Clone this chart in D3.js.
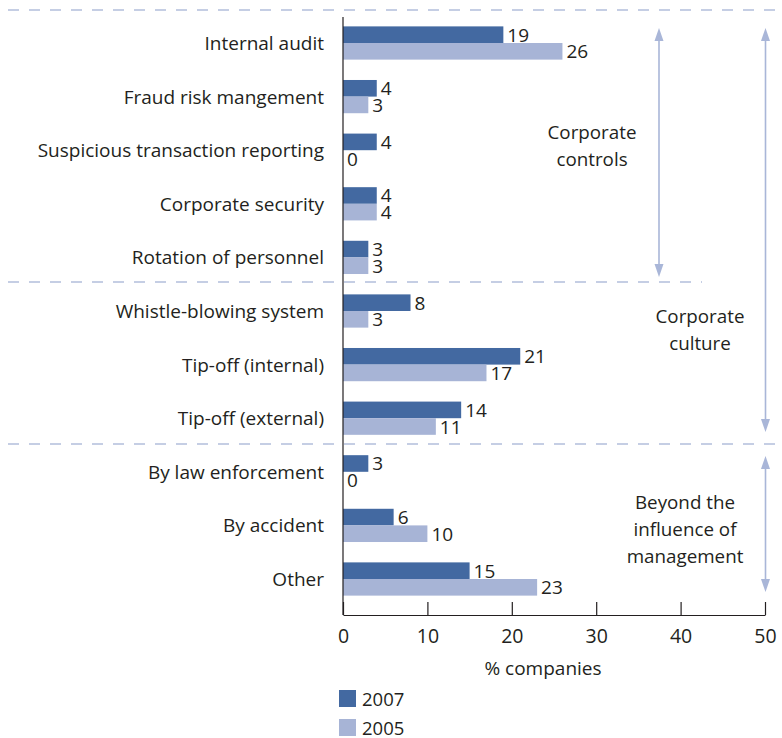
<!DOCTYPE html>
<html>
<head>
<meta charset="utf-8">
<script src="https://cdn.jsdelivr.net/npm/d3@7"></script>
<style>
  html, body { margin: 0; padding: 0; background: #fff; }
  svg text { font-family: "Open Sans", "Noto Sans", sans-serif; fill: #231f20; }
</style>
</head>
<body>
<svg id="chart" width="782" height="738"></svg>
<script>
// Detection methods of fraud, share of companies
const categories = [
  "Internal audit", "Fraud risk mangement", "Suspicious transaction reporting",
  "Corporate security", "Rotation of personnel", "Whistle-blowing system",
  "Tip-off (internal)", "Tip-off (external)", "By law enforcement",
  "By accident", "Other"
];
const values2007 = [19, 4, 4, 4, 3, 8, 21, 14, 3, 6, 15];
const values2005 = [26, 3, 0, 4, 3, 3, 17, 11, 0, 10, 23];
const series = ["2007", "2005"];
const xTicks = [0, 10, 20, 30, 40, 50];
const colors = { "2007": "#4369a1", "2005": "#a7b4d6" };
const guideColor = "#b2bedb";
const arrowColor = "#a9b6d8";

const svg = d3.select("#chart");

const x = d3.scaleLinear().domain([0, 50]).range([343, 765]);
const y = d3.scaleBand().domain(categories).range([16.2, 605.8]).paddingInner(0.38).paddingOuter(0.19);
const ySub = d3.scaleBand().domain(series).range([0, y.bandwidth()]);

// group separators
const separators = [
  { y: 10, x1: 8, x2: 782 },
  { y: 282, x1: 8, x2: 702 },
  { y: 444, x1: 8, x2: 782 }
];
svg.append("g").selectAll("line").data(separators).join("line")
  .attr("x1", d => d.x1).attr("x2", d => d.x2)
  .attr("y1", d => d.y).attr("y2", d => d.y)
  .attr("stroke", guideColor).attr("stroke-width", 1.6)
  .attr("stroke-dasharray", "11 10");

// bars
const rows = categories.map((c, i) => ({ c, v: { "2007": values2007[i], "2005": values2005[i] } }));
const g = svg.append("g");
const cat = g.selectAll("g.cat").data(rows).join("g").attr("class", "cat")
  .attr("transform", d => `translate(0,${y(d.c)})`);

cat.selectAll("rect").data(d => series.map(s => ({ s, v: d.v[s] }))).join("rect")
  .attr("x", x(0)).attr("y", d => ySub(d.s))
  .attr("width", d => x(d.v) - x(0)).attr("height", ySub.bandwidth())
  .attr("fill", d => colors[d.s]);

cat.selectAll("text.val").data(d => series.map(s => ({ s, v: d.v[s] }))).join("text")
  .attr("class", "val")
  .attr("x", d => x(d.v) + 4).attr("y", d => ySub(d.s) + ySub.bandwidth() / 2 + 7)
  .attr("font-size", 19)
  .text(d => d.v);

// category labels
cat.append("text")
  .attr("x", 324).attr("y", y.bandwidth() / 2 + 7)
  .attr("text-anchor", "end").attr("font-size", 19)
  .text(d => d.c);

// x axis with upward ticks
const axis = d3.axisBottom(x).tickValues(xTicks).tickSize(-13).tickPadding(0).tickSizeOuter(0);
const ax = svg.append("g").attr("transform", "translate(0,615)").call(axis);
ax.select(".domain").attr("stroke", "#231f20").attr("stroke-width", 1.2);
ax.selectAll(".tick line").attr("stroke", "#231f20").attr("stroke-width", 1.2);
ax.selectAll(".tick text").attr("y", 28).attr("dy", null)
  .attr("font-size", 19.5).attr("font-family", "'Open Sans', sans-serif").attr("fill", "#231f20");

// y axis line
svg.append("line").attr("x1", x(0)).attr("x2", x(0)).attr("y1", 17).attr("y2", 615)
  .attr("stroke", "#231f20").attr("stroke-width", 1.2);

svg.append("text").attr("x", 543).attr("y", 675).attr("text-anchor", "middle")
  .attr("font-size", 19).text("% companies");

// double-headed range arrows
const arrows = [
  { x: 659, y1: 28, y2: 277 },
  { x: 765.5, y1: 28, y2: 432 },
  { x: 765.5, y1: 456, y2: 592 }
];
const ag = svg.append("g").selectAll("g").data(arrows).join("g");
ag.append("line")
  .attr("x1", d => d.x).attr("x2", d => d.x).attr("y1", d => d.y1 + 6).attr("y2", d => d.y2 - 6)
  .attr("stroke", arrowColor).attr("stroke-width", 1.6);
ag.append("path").attr("fill", arrowColor)
  .attr("d", d => `M${d.x},${d.y1} L${d.x + 4.5},${d.y1 + 13} L${d.x - 4.5},${d.y1 + 13} Z`);
ag.append("path").attr("fill", arrowColor)
  .attr("d", d => `M${d.x},${d.y2} L${d.x + 4.5},${d.y2 - 13} L${d.x - 4.5},${d.y2 - 13} Z`);

// group names
const groups = [
  { x: 592, y: 139, lines: ["Corporate", "controls"] },
  { x: 700, y: 323, lines: ["Corporate", "culture"] },
  { x: 685, y: 509, lines: ["Beyond the", "influence of", "management"] }
];
svg.append("g").selectAll("text").data(groups).join("text")
  .attr("text-anchor", "middle").attr("font-size", 18.8)
  .attr("transform", d => `translate(${d.x},${d.y})`)
  .selectAll("tspan").data(d => d.lines).join("tspan")
  .attr("x", 0).attr("y", (d, i) => i * 27).text(d => d);

// legend
const legend = svg.append("g").selectAll("g").data(series).join("g")
  .attr("transform", (d, i) => `translate(339,${690 + i * 29})`);
legend.append("rect").attr("width", 17).attr("height", 17).attr("fill", d => colors[d]);
legend.append("text").attr("x", 23).attr("y", 15.5)
  .attr("font-size", 18.5).text(d => d);
</script>
</body>
</html>
